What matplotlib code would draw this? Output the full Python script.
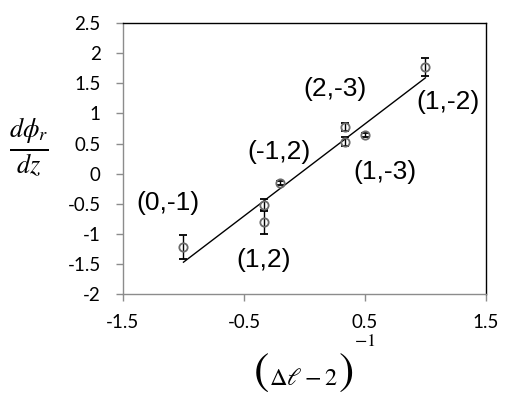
import matplotlib
matplotlib.use("Agg")
import matplotlib.pyplot as plt
import numpy as np

# Data
x_vals = [-1.0, -0.333, -0.333, -0.2, 0.333, 0.333, 0.5, 1.0]
y_vals = [-1.22, -0.52, -0.80, -0.16, 0.77, 0.53, 0.64, 1.77]
y_err = [0.20, 0.10, 0.20, 0.03, 0.07, 0.07, 0.03, 0.15]

# Linear trendline (slope, intercept) spanning the data range
fit_slope = 1.53
fit_intercept = 0.06
fit_x = [-1.0, 1.0]

labels = ["(0,-1)", "(1,2)", "(-1,2)", "(2,-3)", "(1,-3)", "(1,-2)"]
label_x = [-1.13, -0.34, -0.21, 0.25, 0.665, 1.19]
label_y = [-0.49, -1.44, 0.36, 1.41, 0.03, 1.19]

x_ticks = [-1.5, -0.5, 0.5, 1.5]
y_ticks = np.arange(-2, 2.51, 0.5)

plt.rcParams["mathtext.fontset"] = "stix"

fig = plt.figure(figsize=(5.29, 4.04), dpi=100)
ax = fig.add_axes([0.2325, 0.272, 0.686, 0.671])

fx = np.array(fit_x)
ax.plot(fx, fit_slope * fx + fit_intercept, color="black", linewidth=1.0, zorder=2)

ax.errorbar(x_vals, y_vals, yerr=y_err, fmt="o", markersize=6,
            markerfacecolor="none", markeredgecolor="#6b6b6b", markeredgewidth=1.3,
            ecolor="black", elinewidth=1.0, capsize=3, capthick=1.0, zorder=3)

for txt, lx, ly in zip(labels, label_x, label_y):
    ax.text(lx, ly, txt, ha="center", va="center", fontsize=19,
            family="Liberation Sans")

ax.set_xlim(-1.5, 1.5)
ax.set_ylim(-2, 2.5)
ax.set_xticks(x_ticks)
ax.set_yticks(y_ticks)
ax.set_xticklabels([f"{t:g}" for t in x_ticks], family="Lato", fontsize=13.5)
ax.set_yticklabels([f"{t:g}" for t in y_ticks], family="Lato", fontsize=13.5)
ax.tick_params(direction="out", length=5, color="#8c8c8c", width=1.0)
ax.tick_params(axis="y", pad=11)
ax.tick_params(axis="x", pad=9)

for side in ["left", "bottom"]:
    ax.spines[side].set_color("#8c8c8c")
    ax.spines[side].set_linewidth(1.0)
for side in ["top", "right"]:
    ax.spines[side].set_color("black")
    ax.spines[side].set_linewidth(1.0)

# y axis label (horizontal fraction)
fig.text(0.055, 0.636, r"$\frac{d\phi_r}{dz}$", fontsize=27, ha="center", va="center")

# x axis label with tall parentheses
fig.text(0.494, 0.077, "(", fontsize=33, family="STIXGeneral", ha="center", va="center")
fig.text(0.574, 0.064, r"$\Delta\ell - 2$", fontsize=17.5, ha="center", va="center")
fig.text(0.655, 0.077, ")", fontsize=33, family="STIXGeneral", ha="center", va="center")
fig.text(0.690, 0.155, r"$-1$", fontsize=13, ha="center", va="center")

plt.savefig("out.png", dpi=100)
plt.close()
